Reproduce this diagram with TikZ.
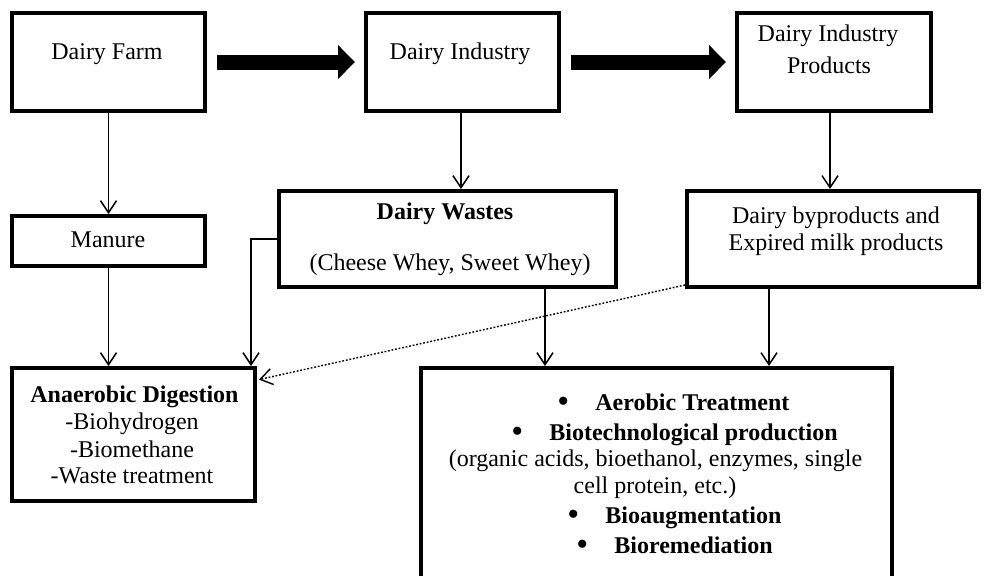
\documentclass[tikz,border=0pt]{standalone}
\usepackage{fontspec}
\setmainfont{Liberation Serif}
\usetikzlibrary{arrows.meta,calc}
\newcommand{\itemdot}{\llap{\makebox[32pt][c]{\raisebox{-1.2pt}{\fontsize{17}{17}\selectfont\mdseries\textbullet}}}}
\begin{document}
\begin{tikzpicture}[x=0.5pt,y=-0.5pt,
  every node/.style={font=\fontsize{12}{14}\selectfont},
  box/.style={draw, line width=2pt, rectangle, inner sep=0pt},
  txt/.style={inner sep=0pt, anchor=base},
  itm/.style={inner sep=0pt, anchor=base west, font=\fontsize{12}{14}\selectfont\bfseries},
  arr/.style={line width=0.75pt, -{Straight Barb[length=6pt,width=8pt]}},
  dots/.style={line width=0.7pt, dash pattern=on 0.9pt off 0.9pt, -{Straight Barb[length=6pt,width=8pt]}},
  big/.style={line width=7.5pt, -{Triangle[length=8.5pt,width=16.5pt]}, shorten <=5pt, shorten >=4.5pt}]
\useasboundingbox (0,0) rectangle (985,575);

% boxes
\node[box, minimum width=96.5pt, minimum height=49pt] (farm) at (108.5,62) {};
\node[box, minimum width=96.5pt, minimum height=49pt] (industry) at (462.5,62) {};
\node[box, minimum width=97pt, minimum height=49pt] (products) at (834,62) {};
\node[box, minimum width=96.5pt, minimum height=25pt] (manure) at (108.5,241) {};
\node[box, minimum width=168.5pt, minimum height=48pt] (wastes) at (447.5,239) {};
\node[box, minimum width=146pt, minimum height=48pt] (byprod) at (833,239) {};
\node[box, minimum width=121.5pt, minimum height=66.5pt] (anaer) at (133.5,434.5) {};
\node[box, minimum width=235.5pt, minimum height=126pt] (treat) at (656.5,494) {};

% box texts
\node[txt] (farmt) at (107,59) {Dairy Farm};
\node[txt] (industryt) at (460,59) {Dairy Industry};
\node[txt] (productsa) at (828,41) {Dairy Industry};
\node[txt] (productsb) at (829,73) {Products};
\node[txt] (manuret) at (108,247) {Manure};
\node[txt, font=\fontsize{12}{14}\selectfont\bfseries] (wastesa) at (445,219) {Dairy Wastes};
\node[txt] (wastesb) at (450,270) {(Cheese Whey, Sweet Whey)};
\node[txt] (byproda) at (836,223) {Dairy byproducts and};
\node[txt] (byprodb) at (836,250) {Expired milk products};
\node[txt, font=\fontsize{12}{14}\selectfont\bfseries] (anaera) at (134.5,402) {Anaerobic Digestion};
\node[txt] (anaerb) at (132,429) {-Biohydrogen};
\node[txt] (anaerc) at (132,457) {-Biomethane};
\node[txt] (anaerd) at (132,483) {-Waste treatment};

% treatment list
\node[itm] (ta) at (595,410) {\itemdot Aerobic Treatment};
\node[itm] (tb) at (549,440) {\itemdot Biotechnological production};
\node[txt] (tc) at (655.5,466) {(organic acids, bioethanol, enzymes, single};
\node[txt] (td) at (655,493) {cell protein, etc.)};
\node[itm] (te) at (605,523) {\itemdot Bioaugmentation};
\node[itm] (tf) at (614,553) {\itemdot Bioremediation};

% main chain
\draw[big] (farm) -- (industry);
\draw[big] (industry) -- (products);

% thin connectors
\draw[arr] (farm.south) -- (manure.north);
\draw[arr] (manure.south) -- (manure.south |- anaer.north);
\draw[arr] ([xshift=-0.75pt]industry.south) coordinate (i1) -- (i1 |- wastes.north);
\draw[arr] ([xshift=-2pt]products.south) coordinate (p1) -- (p1 |- byprod.north);
\draw[arr] (wastes.west) -| ([xshift=-3pt]anaer.north east);
\draw[arr] ([xshift=48.75pt]wastes.south) coordinate (w1) -- (w1 |- treat.north);
\draw[arr] ([xshift=-32pt]byprod.south) coordinate (b1) -- (b1 |- treat.north);
\draw[dots, shorten >=1pt] ([yshift=2pt]byprod.south west) -- ([yshift=-7pt]anaer.north east);
\end{tikzpicture}
\end{document}
